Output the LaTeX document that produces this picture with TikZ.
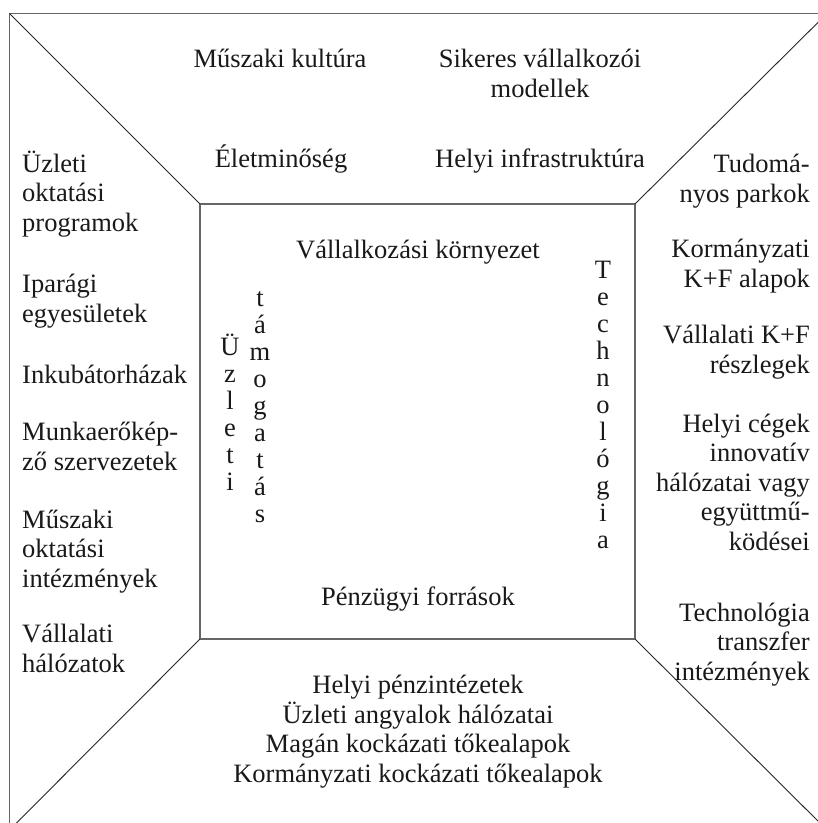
\documentclass[tikz,border=0pt]{standalone}
\usepackage{fontspec}
\setmainfont{Liberation Serif}
\begin{document}
\begin{tikzpicture}[x=1pt,y=-1pt,
  frame/.style={draw=black!60,line width=1.3pt},
  diag/.style={draw=black!85,line width=0.9pt},
  lbl/.style={inner sep=0pt,text=black!90,font=\fontsize{26.5}{29.4}\selectfont},
  lcol/.style={lbl,anchor=base west,align=left},
  rcol/.style={lbl,anchor=base east,align=right},
  ctr/.style={lbl,anchor=base,align=center},
  vert/.style={inner sep=0pt,text=black!90,anchor=base,align=center,
               font=\fontsize{26.5}{27}\selectfont}]
\useasboundingbox (0,0) rectangle (818,823);
\clip (0,0) rectangle (818,823);

% outer frame (runs past the right and bottom edges) and inner square
\coordinate (otl) at (9.5,13.5);
\coordinate (otr) at (827,13.5);
\coordinate (obl) at (9.5,830);
\coordinate (obr) at (827,830);
\coordinate (itl) at (200,204);
\coordinate (itr) at (635,204);
\coordinate (ibl) at (200,639);
\coordinate (ibr) at (635,639);

\draw[frame] (otl) rectangle (obr);
\draw[frame] (itl) rectangle (ibr);
\draw[diag] (otl) -- (itl);
\draw[diag] (otr) -- (itr);
\draw[diag] (obl) -- (ibl);
\draw[diag] (obr) -- (ibr);

% top band (a multi-line node sits on the baseline of its last line)
\node[ctr] (muszaki) at (280,67) {Műszaki kultúra};
\node[ctr] (sikeres) at (540,97) {Sikeres vállalkozói\\modellek};
\node[ctr] (elet) at (281,167) {Életminőség};
\node[ctr] (infra) at (540,167) {Helyi infrastruktúra};

% left band
\node[lcol] (uzleti) at (22,231) {Üzleti\\oktatási\\programok};
\node[lcol] (ipar) at (22,322) {Iparági\\egyesületek};
\node[lcol] (inku) at (22,383) {Inkubátorházak};
\node[lcol] (munka) at (22,470) {Munkaerőkép-\\ző szervezetek};
\node[lcol] (muszok) at (22,587) {Műszaki\\oktatási\\intézmények};
\node[lcol] (valhal) at (22,672) {Vállalati\\hálózatok};

% right band
\node[rcol] (tudo) at (810,202) {Tudomá-\\nyos parkok};
\node[rcol] (korm) at (810,287) {Kormányzati\\K+F alapok};
\node[rcol] (valkf) at (810,373) {Vállalati K+F\\részlegek};
\node[rcol] (helyi) at (810,550) {Helyi cégek\\innovatív\\hálózatai vagy\\együttmű-\\ködései};
\node[rcol] (techtr) at (810,680) {Technológia\\transzfer\\intézmények};

% bottom band
\node[ctr] (penz) at (418,782) {Helyi pénzintézetek\\Üzleti angyalok hálózatai\\Magán kockázati tőkealapok\\Kormányzati kockázati tőkealapok};

% inner square
\node[ctr] (korny) at (418,258) {Vállalkozási környezet};
\node[ctr] (forr) at (418,605) {Pénzügyi források};
\node[vert] (uzv) at (230,490) {Ü\\z\\l\\e\\t\\i};
\node[vert] (tamv) at (260,522) {t\\á\\m\\o\\g\\a\\t\\á\\s};
\node[vert] (techv) at (603,548) {T\\e\\c\\h\\n\\o\\l\\ó\\g\\i\\a};
\end{tikzpicture}
\end{document}
